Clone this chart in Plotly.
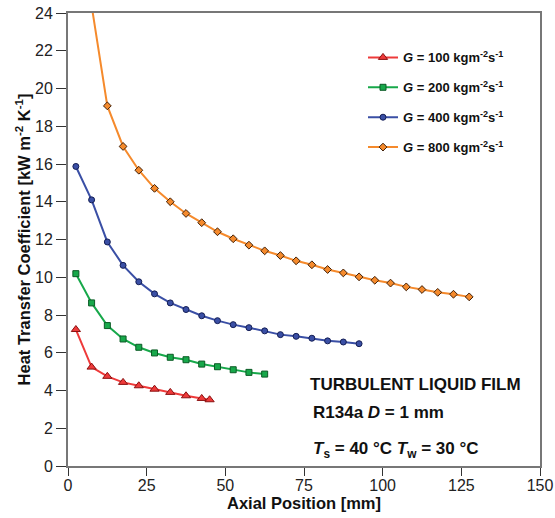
import plotly.graph_objects as go

# Data
x_100 = [2.5, 7.5, 12.5, 17.5, 22.5, 27.5, 32.5, 37.5, 42.5, 45.0]
h_100 = [7.23, 5.24, 4.75, 4.43, 4.25, 4.07, 3.90, 3.72, 3.58, 3.51]

x_200 = [2.5, 7.5, 12.5, 17.5, 22.5, 27.5, 32.5, 37.5, 42.5, 47.5, 52.5, 57.5, 62.5]
h_200 = [10.19, 8.64, 7.44, 6.73, 6.29, 5.99, 5.76, 5.63, 5.40, 5.26, 5.10, 4.96, 4.87]

x_400 = [2.5, 7.5, 12.5, 17.5, 22.5, 27.5, 32.5, 37.5, 42.5, 47.5, 52.5, 57.5, 62.5,
         67.5, 72.5, 77.5, 82.5, 87.5, 92.5]
h_400 = [15.87, 14.10, 11.87, 10.63, 9.76, 9.12, 8.64, 8.29, 7.96, 7.70, 7.49, 7.33, 7.16,
         6.96, 6.87, 6.77, 6.63, 6.57, 6.48]

x_800 = [7.5, 12.5, 17.5, 22.5, 27.5, 32.5, 37.5, 42.5, 47.5, 52.5, 57.5, 62.5, 67.5,
         72.5, 77.5, 82.5, 87.5, 92.5, 97.5, 102.5, 107.5, 112.5, 117.5, 122.5, 127.5]
h_800 = [24.4, 19.08, 16.93, 15.67, 14.71, 14.00, 13.38, 12.89, 12.41, 12.04, 11.70, 11.40,
         11.15, 10.87, 10.66, 10.41, 10.23, 10.02, 9.84, 9.69, 9.49, 9.35, 9.20, 9.10, 8.96]

names = ["<i>G</i> = 100 kgm<sup>-2</sup>s<sup>-1</sup>",
         "<i>G</i> = 200 kgm<sup>-2</sup>s<sup>-1</sup>",
         "<i>G</i> = 400 kgm<sup>-2</sup>s<sup>-1</sup>",
         "<i>G</i> = 800 kgm<sup>-2</sup>s<sup>-1</sup>"]

x_ticks = [0, 25, 50, 75, 100, 125, 150]
y_ticks = list(range(0, 25, 2))

series = [
    (x_100, h_100, "#ee3a3a", "triangle-up", 8, "#8a1010"),
    (x_200, h_200, "#17a84a", "square", 6, "#0b5a25"),
    (x_400, h_400, "#3a4fa5", "circle", 6, "#141e55"),
    (x_800, h_800, "#f58a2c", "diamond", 6, "#402008"),
]

fig = go.Figure()
for i, (xs, ys, col, sym, sz, edge) in enumerate(series):
    fig.add_trace(go.Scatter(
        x=xs, y=ys, mode="lines+markers", name=names[i],
        legendgroup=f"g{i}",
        line=dict(color=col, width=2),
        marker=dict(symbol=sym, size=sz, color=col, line=dict(color=edge, width=1)),
    ))

font_family = "Liberation Sans, Arial, sans-serif"

fig.update_layout(
    width=555, height=518,
    margin=dict(l=68, r=15, t=13, b=52, autoexpand=False),
    paper_bgcolor="white", plot_bgcolor="white",
    font=dict(family=font_family, color="#111"),
    showlegend=True,
    legend=dict(
        x=0.625, y=0.935, xanchor="left", yanchor="top",
        bgcolor="rgba(0,0,0,0)",
        font=dict(size=13, family=font_family, color="#111", weight="bold"),
        itemwidth=30, tracegroupgap=10,
    ),
    xaxis=dict(
        range=[0, 150], tickvals=x_ticks, ticks="outside", ticklen=8, tickwidth=1,
        tickcolor="#333", showgrid=False, zeroline=False, automargin=False,
        showline=True, linecolor="#777", linewidth=2, mirror=True,
        tickfont=dict(size=16, color="#222"), ticklabelstandoff=-4,
        title=dict(text="<b>Axial Position [mm]</b>", font=dict(size=16.5, color="#111"), standoff=0),
    ),
    yaxis=dict(
        range=[0, 24], tickvals=y_ticks, ticks="outside", ticklen=10, tickwidth=1,
        tickcolor="#333", showgrid=False, zeroline=False, automargin=False,
        showline=True, linecolor="#777", linewidth=2, mirror=True,
        tickfont=dict(size=16, color="#222"),
        title=dict(text="<b>Heat Transfer Coefficient [kW m<sup>-2</sup> K<sup>-1</sup>]</b>",
                   font=dict(size=16.5, color="#111"), standoff=0),
    ),
)

ann_font = dict(size=17, family=font_family, color="#111")
fig.add_annotation(x=0.508, y=0.181, xref="paper", yref="paper", xanchor="left", yanchor="middle",
                   text="<b>TURBULENT LIQUID FILM</b>", showarrow=False, font=ann_font)
fig.add_annotation(x=0.515, y=0.117, xref="paper", yref="paper", xanchor="left", yanchor="middle",
                   text="<b>R134a <i>D</i> = 1 mm</b>", showarrow=False, font=ann_font)
fig.add_annotation(x=0.515, y=0.035, xref="paper", yref="paper", xanchor="left", yanchor="middle",
                   text="<b><i>T</i><sub>s</sub> = 40 °C <i>T</i><sub>w</sub> = 30 °C</b>",
                   showarrow=False, font=ann_font)

fig.write_html("out.html")
